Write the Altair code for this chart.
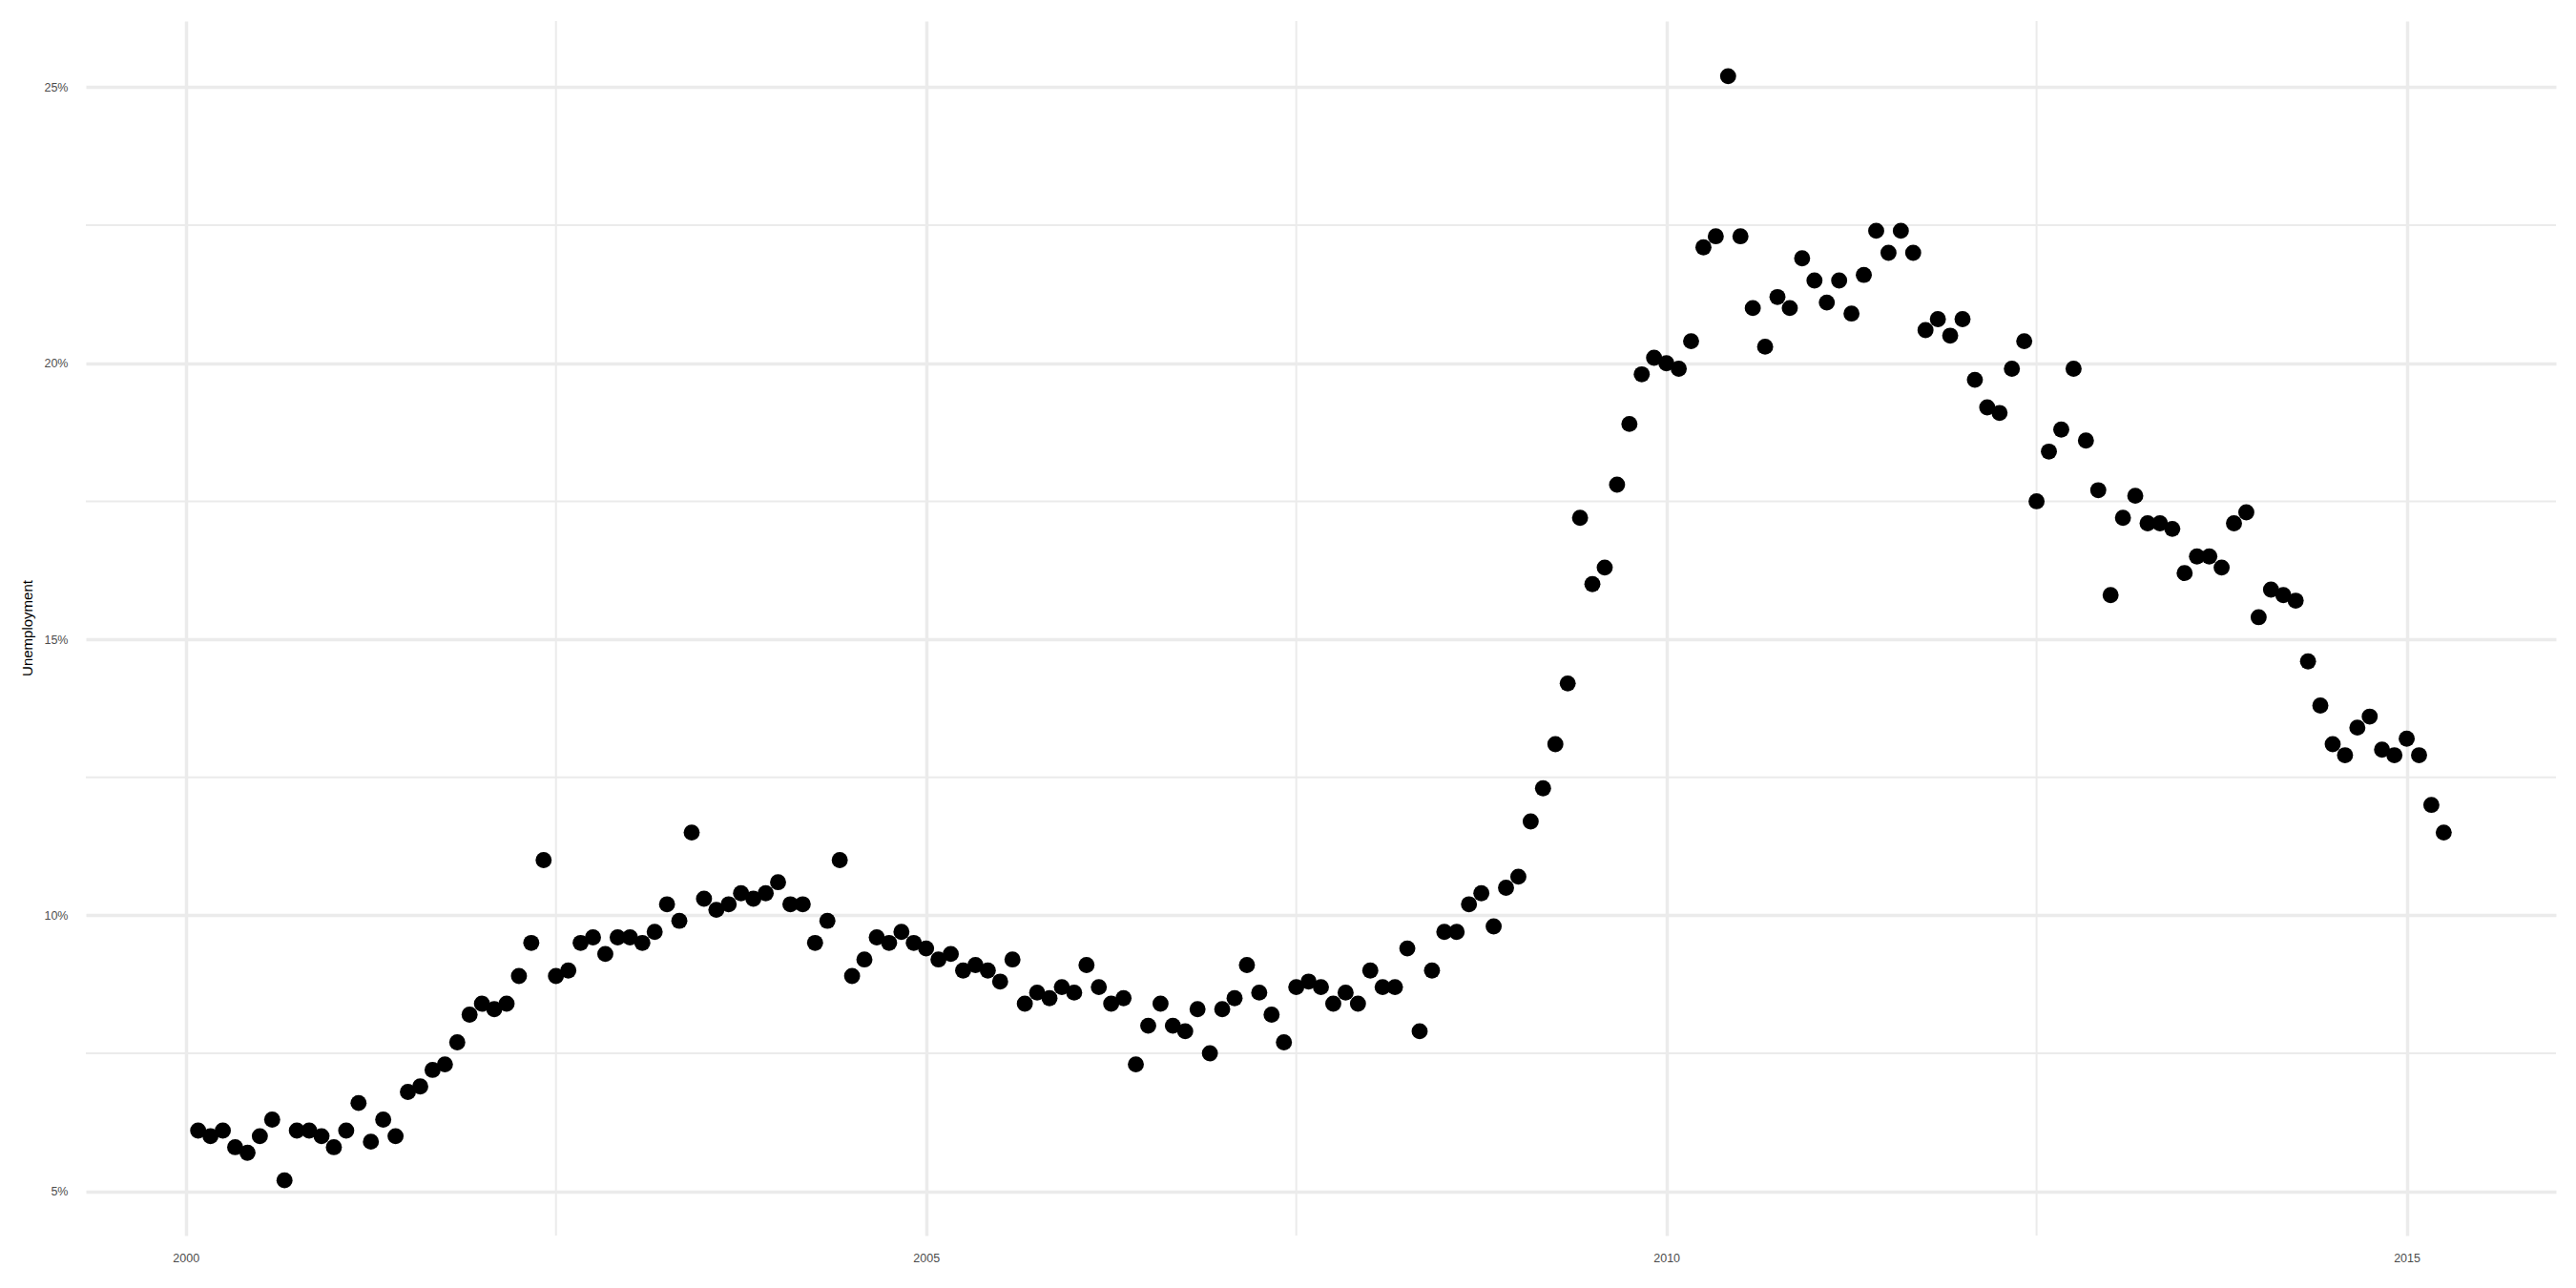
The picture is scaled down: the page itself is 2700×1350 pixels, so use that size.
import altair as alt
import pandas as pd

# Monthly unemployment rate (%), Feb 2000 .. Apr 2015 (one value per month)
start_month = "2000-02-01"
unemployment = [
    6.1, 6.0, 6.1, 5.8, 5.7, 6.0, 6.3, 5.2, 6.1, 6.1, 6.0, 5.8,
    6.1, 6.6, 5.9, 6.3, 6.0, 6.8, 6.9, 7.2, 7.3, 7.7, 8.2, 8.4,
    8.3, 8.4, 8.9, 9.5, 11.0, 8.9, 9.0, 9.5, 9.6, 9.3, 9.6, 9.6,
    9.5, 9.7, 10.2, 9.9, 11.5, 10.3, 10.1, 10.2, 10.4, 10.3, 10.4, 10.6,
    10.2, 10.2, 9.5, 9.9, 11.0, 8.9, 9.2, 9.6, 9.5, 9.7, 9.5, 9.4,
    9.2, 9.3, 9.0, 9.1, 9.0, 8.8, 9.2, 8.4, 8.6, 8.5, 8.7, 8.6,
    9.1, 8.7, 8.4, 8.5, 7.3, 8.0, 8.4, 8.0, 7.9, 8.3, 7.5, 8.3,
    8.5, 9.1, 8.6, 8.2, 7.7, 8.7, 8.8, 8.7, 8.4, 8.6, 8.4, 9.0,
    8.7, 8.7, 9.4, 7.9, 9.0, 9.7, 9.7, 10.2, 10.4, 9.8, 10.5, 10.7,
    11.7, 12.3, 13.1, 14.2, 17.2, 16.0, 16.3, 17.8, 18.9, 19.8, 20.1, 20.0,
    19.9, 20.4, 22.1, 22.3, 25.2, 22.3, 21.0, 20.3, 21.2, 21.0, 21.9, 21.5,
    21.1, 21.5, 20.9, 21.6, 22.4, 22.0, 22.4, 22.0, 20.6, 20.8, 20.5, 20.8,
    19.7, 19.2, 19.1, 19.9, 20.4, 17.5, 18.4, 18.8, 19.9, 18.6, 17.7, 15.8,
    17.2, 17.6, 17.1, 17.1, 17.0, 16.2, 16.5, 16.5, 16.3, 17.1, 17.3, 15.4,
    15.9, 15.8, 15.7, 14.6, 13.8, 13.1, 12.9, 13.4, 13.6, 13.0, 12.9, 13.2,
    12.9, 12.0, 11.5,
]

x_major = [2000, 2005, 2010, 2015]
x_minor = [2002.5, 2007.5, 2012.5]
y_major = [5, 10, 15, 20, 25]
y_minor = [7.5, 12.5, 17.5, 22.5]

dates = pd.date_range(start_month, periods=len(unemployment), freq="MS")
df = pd.DataFrame({
    "year": dates.year + (dates.month - 1) / 12.0,
    "rate": unemployment,
})

x_dom = [1999.325, 2016.008]
y_dom = [4.2, 26.2]

FONT = "Liberation Sans"
GRID = "#EBEBEB"

x_scale = alt.Scale(domain=x_dom, nice=False, zero=False)
y_scale = alt.Scale(domain=y_dom, nice=False, zero=False)

vminor = alt.Chart(pd.DataFrame({"v": x_minor})).mark_rule(
    color=GRID, strokeWidth=2
).encode(x=alt.X("v:Q", scale=x_scale))

hminor = alt.Chart(pd.DataFrame({"v": y_minor})).mark_rule(
    color=GRID, strokeWidth=2
).encode(y=alt.Y("v:Q", scale=y_scale))

points = alt.Chart(df).mark_circle(size=285, color="black", opacity=1).encode(
    x=alt.X(
        "year:Q",
        scale=x_scale,
        axis=alt.Axis(
            values=x_major, format="d", title=None,
            grid=True, gridColor=GRID, gridWidth=3.5,
            domain=False, ticks=False, labelPadding=17,
            labelFont=FONT, labelFontSize=12.5, labelColor="#4D4D4D",
        ),
    ),
    y=alt.Y(
        "rate:Q",
        scale=y_scale,
        axis=alt.Axis(
            values=y_major, labelExpr="datum.value + '%'",
            title="Unemployment", titleFont=FONT, titleFontSize=15,
            titleFontWeight="normal", titleColor="black",
            titleAngle=-90, titleX=-62, titleY=636, titleBaseline="middle",
            titleAlign="center",
            grid=True, gridColor=GRID, gridWidth=3.5,
            domain=False, ticks=False, labelPadding=19,
            labelFont=FONT, labelFontSize=12.5, labelColor="#4D4D4D",
        ),
    ),
)

chart = alt.layer(vminor, hminor, points).properties(
    width=2589,
    height=1273,
    background="white",
    autosize=alt.AutoSizeParams(type="none"),
    padding={"left": 82, "top": 14, "right": 10, "bottom": 40},
).configure_view(strokeWidth=0, stroke="transparent")

chart.save("out.html", embed_options={"renderer": "svg", "actions": False})
